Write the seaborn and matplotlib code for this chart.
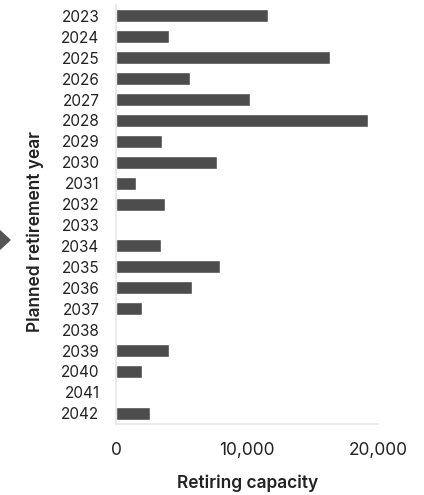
import pandas as pd
import matplotlib.pyplot as plt
from matplotlib.patches import Polygon
import seaborn as sns

years = ['2023', '2024', '2025', '2026', '2027', '2028', '2029', '2030', '2031', '2032',
         '2033', '2034', '2035', '2036', '2037', '2038', '2039', '2040', '2041', '2042']
capacity = [11600, 4000, 16300, 5650, 10200, 19200, 3500, 7700, 1500, 3700,
            0, 3400, 7900, 5800, 2000, 0, 4000, 2000, 0, 2600]
xticks = [0, 10000, 20000]
xtick_labels = ['0', '10,000', '20,000']

sns.set_style('white')
plt.rcParams['font.family'] = ['Inter', 'DejaVu Sans']

df = pd.DataFrame({'year': years, 'capacity': capacity})

fig = plt.figure(figsize=(4.24, 4.95), dpi=100)
ax = fig.add_axes([0.274, 0.144, 0.618, 0.845])

sns.barplot(data=df, x='capacity', y='year', order=years, color='#4d4d4d',
            saturation=1, width=0.62, ax=ax)

ax.set_xlim(0, 20000)
ax.set_xticks(xticks)
ax.set_xticklabels(xtick_labels)
ax.tick_params(axis='both', length=0, colors='#222222')
ax.tick_params(axis='x', pad=13, labelsize=12.5)
ax.tick_params(axis='y', pad=12, labelsize=11)

ax.set_xlabel('Retiring capacity', fontsize=12.5, fontweight='semibold', color='#222222', labelpad=11)
ax.set_ylabel('Planned retirement year', fontsize=12.5, fontweight='semibold', color='#222222')
ax.yaxis.set_label_coords(-0.276, 0.46)

for side in ['top', 'right']:
    ax.spines[side].set_visible(False)
for side in ['left', 'bottom']:
    ax.spines[side].set_color('#e6e6e6')
    ax.spines[side].set_linewidth(1.2)

# small arrow marker at the left edge (clipped in the original crop)
W, H = 424, 495
arrow = Polygon([(-2 / W, 1 - 229 / H), (10 / W, 1 - 240 / H), (-2 / W, 1 - 251 / H)],
                closed=True, transform=fig.transFigure, color='#555555')
fig.patches.append(arrow)

fig.savefig('out.png', dpi=100)
